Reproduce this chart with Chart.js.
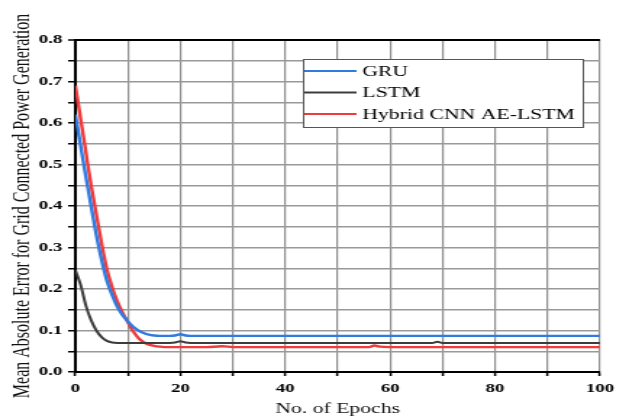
<!DOCTYPE html>
<html>
<head>
<meta charset="utf-8">
<script src="https://cdn.jsdelivr.net/npm/chart.js@4.4.1/dist/chart.umd.min.js"></script>
<style>
  html, body { margin: 0; padding: 0; background: #fff; }
  /* the original figure is stretched sideways, so the chart is drawn narrow and scaled */
  #wrap { width: 434px; height: 420px; transform: scaleX(1.4493); transform-origin: 0 0; }
</style>
</head>
<body>
<div id="wrap"><canvas id="lossChart"></canvas></div>
<script>
const epochs = [0, 1, 2, 3, 4, 5, 6, 7, 8, 9, 10, 11, 12, 13, 14, 15, 16, 17, 18, 19, 20, 21, 22,
                25, 28, 30, 40, 50, 56, 57, 58, 60, 68, 69, 70, 80, 90, 100];

const gruValues = [0.62, 0.545, 0.47, 0.40, 0.33, 0.27, 0.22, 0.185, 0.157, 0.137, 0.122, 0.109, 0.100,
                   0.094, 0.090, 0.088, 0.087, 0.087, 0.087, 0.088, 0.091, 0.088, 0.087,
                   0.087, 0.087, 0.087, 0.087, 0.087, 0.087, 0.087, 0.087, 0.087, 0.087, 0.087, 0.087, 0.087, 0.087, 0.087];

const lstmValues = [0.245, 0.21, 0.16, 0.125, 0.10, 0.084, 0.075, 0.071, 0.07, 0.07, 0.07, 0.07, 0.07,
                    0.07, 0.07, 0.07, 0.07, 0.07, 0.07, 0.071, 0.074, 0.071, 0.07,
                    0.07, 0.07, 0.07, 0.07, 0.07, 0.07, 0.07, 0.07, 0.07, 0.07, 0.073, 0.07, 0.07, 0.07, 0.07];

const hybridValues = [0.69, 0.61, 0.53, 0.45, 0.38, 0.31, 0.248, 0.205, 0.17, 0.143, 0.12, 0.098, 0.082,
                      0.072, 0.066, 0.063, 0.061, 0.06, 0.06, 0.06, 0.06, 0.06, 0.06,
                      0.06, 0.062, 0.06, 0.06, 0.06, 0.06, 0.064, 0.061, 0.06, 0.06, 0.06, 0.06, 0.06, 0.06, 0.06];

const seriesNames = ['GRU', 'LSTM', 'Hybrid CNN AE-LSTM'];
const seriesColors = ['#2f7be0', '#3c3c3c', '#ef3b3b'];

const xTitle = 'No. of Epochs';
const yTitle = 'Mean Absolute Error for Grid Connected Power Generation';

function toPoints(values) {
    return epochs.map((e, i) => ({ x: e, y: values[i] }));
}

// legend box sitting inside the plot, like the original
const boxLegend = {
    id: 'boxLegend',
    afterDraw(chart) {
        const ctx = chart.ctx;
        const x0 = 209, y0 = 59, w = 193, h = 68;
        ctx.save();
        ctx.fillStyle = '#fff';
        ctx.fillRect(x0, y0, w, h);
        ctx.strokeStyle = '#555';
        ctx.lineWidth = 1;
        ctx.strokeRect(x0 + 0.5, y0 + 0.5, w, h);
        ctx.font = '15px "Liberation Serif", serif';
        ctx.textBaseline = 'middle';
        chart.data.datasets.forEach((ds, i) => {
            const y = 71 + i * 21.5;
            ctx.strokeStyle = ds.borderColor;
            ctx.lineWidth = 2.2;
            ctx.beginPath();
            ctx.moveTo(x0 + 1, y);
            ctx.lineTo(x0 + 37, y);
            ctx.stroke();
            ctx.fillStyle = '#000';
            ctx.fillText(ds.label, x0 + 41, y + 1);
        });
        ctx.restore();
    }
};

const ctx = document.getElementById('lossChart').getContext('2d');

new Chart(ctx, {
    type: 'line',
    data: {
        datasets: [
            { label: seriesNames[0], data: toPoints(gruValues), borderColor: seriesColors[0], borderWidth: 2.4 },
            { label: seriesNames[1], data: toPoints(lstmValues), borderColor: seriesColors[1], borderWidth: 2 },
            { label: seriesNames[2], data: toPoints(hybridValues), borderColor: seriesColors[2], borderWidth: 2.4 }
        ]
    },
    options: {
        responsive: true,
        maintainAspectRatio: false,
        animation: false,
        layout: { padding: { top: 40, right: 20, left: 0, bottom: 0 } },
        elements: {
            point: { radius: 0 },
            line: { cubicInterpolationMode: 'monotone', fill: false }
        },
        plugins: {
            legend: { display: false },
            tooltip: { enabled: false }
        },
        scales: {
            x: {
                type: 'linear',
                min: 0,
                max: 100,
                afterFit: function (scale) { scale.height = 48; },
                ticks: {
                    stepSize: 10,
                    autoSkip: false,
                    maxRotation: 0,
                    padding: 5,
                    color: '#000',
                    font: { family: '"Liberation Serif", serif', size: 13, weight: 'bold' },
                    callback: function (v) { return v % 20 === 0 ? v : ''; }
                },
                grid: {
                    color: '#8e8e8e',
                    lineWidth: 1.2,
                    tickLength: 4,
                    tickColor: '#000',
                    tickWidth: 1.5
                },
                border: { color: '#000', width: 2 },
                title: {
                    display: true,
                    text: xTitle,
                    color: '#111',
                    padding: { top: 0, bottom: 2 },
                    font: { family: '"Liberation Serif", serif', size: 15 }
                }
            },
            y: {
                min: 0,
                max: 0.8,
                afterFit: function (scale) { scale.width = 52; },
                ticks: {
                    stepSize: 0.05,
                    autoSkip: false,
                    padding: 4,
                    color: '#000',
                    font: { family: '"Liberation Serif", serif', size: 13, weight: 'bold' },
                    callback: function (v) {
                        return Math.round(v * 100) % 10 === 0 ? v.toFixed(1) : '';
                    }
                },
                grid: {
                    color: function (c) {
                        return c.tick && Math.abs(c.tick.value - 0.8) < 1e-6 ? '#000' : '#999';
                    },
                    lineWidth: function (c) {
                        return c.tick && Math.abs(c.tick.value - 0.8) < 1e-6 ? 2 : 1.5;
                    },
                    tickLength: 5,
                    tickColor: '#000',
                    tickWidth: 1.5
                },
                border: { color: '#000', width: 2 },
                title: {
                    display: true,
                    text: yTitle,
                    color: '#111',
                    padding: { top: 6, bottom: 0 },
                    font: { family: '"Liberation Serif", serif', size: 16 }
                }
            }
        }
    },
    plugins: [boxLegend]
});
</script>
</body>
</html>
